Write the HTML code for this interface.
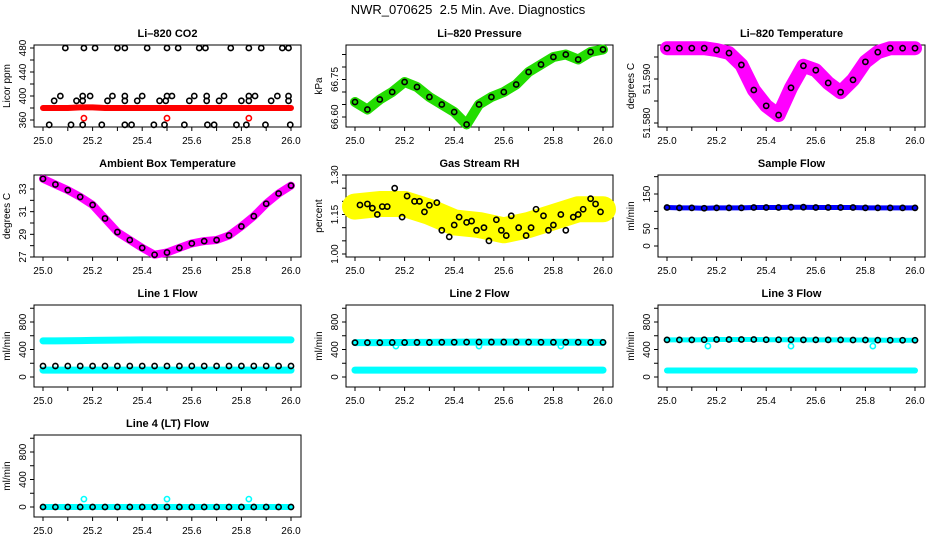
<!DOCTYPE html>
<html><head><meta charset="utf-8">
<style>
html,body{margin:0;padding:0;background:#fff;}
svg{display:block;font-family:"Liberation Sans",Arial,sans-serif;}
</style></head>
<body>
<svg id="chart" width="936" height="540" viewBox="0 0 936 540" xmlns="http://www.w3.org/2000/svg">
<text x="468" y="14" font-size="13" text-anchor="middle">NWR_070625&#160; 2.5 Min. Ave. Diagnostics</text>
</svg>
<script>
// ---- data ----
const T21=[25.0,25.05,25.1,25.15,25.2,25.25,25.3,25.35,25.4,25.45,25.5,25.55,25.6,25.65,25.7,25.75,25.8,25.85,25.9,25.95,26.0];
const xTicks=[25.0,25.1,25.2,25.3,25.4,25.5,25.6,25.7,25.8,25.9,26.0];
const xTickLabels=["25.0","","25.2","","25.4","","25.6","","25.8","","26.0"];

const co2T480=[25.09,25.165,25.21,25.30,25.33,25.42,25.50,25.545,25.63,25.655,25.757,25.83,25.88,25.965,25.99];
const co2T400=[25.07,25.16,25.19,25.28,25.33,25.40,25.50,25.52,25.61,25.66,25.73,25.83,25.855,25.945,25.99];
const co2T392=[25.045,25.135,25.16,25.26,25.33,25.38,25.47,25.495,25.59,25.66,25.71,25.80,25.83,25.92,25.99];
const co2T352=[25.025,25.113,25.16,25.237,25.33,25.357,25.447,25.49,25.57,25.663,25.69,25.78,25.82,25.897,25.997];
const co2RedBand=[380,380,380,381,381,380,380,380,380,380,380,380,380,380,380,380,380,380,380,380,380];
const co2RedT=[25.165,25.50,25.83];
const co2RedV=[363,363,363];

const pressure=[66.66,66.63,66.67,66.70,66.74,66.72,66.68,66.65,66.62,66.57,66.65,66.68,66.70,66.73,66.78,66.81,66.84,66.85,66.83,66.86,66.87];
const liTemp=[51.5970,51.5970,51.5970,51.5970,51.5966,51.5959,51.5932,51.5875,51.5839,51.5818,51.5880,51.5930,51.5920,51.5891,51.5870,51.5898,51.5939,51.5961,51.5970,51.5970,51.5970];
const ambient=[33.9,33.4,32.9,32.3,31.6,30.4,29.2,28.5,27.8,27.2,27.4,27.8,28.2,28.4,28.5,28.9,29.7,30.6,31.7,32.6,33.3];

const rhT=[25.02,25.05,25.07,25.09,25.11,25.13,25.16,25.19,25.21,25.24,25.26,25.28,25.30,25.33,25.35,25.38,25.40,25.42,25.45,25.47,25.49,25.52,25.54,25.57,25.59,25.61,25.63,25.66,25.69,25.71,25.73,25.76,25.78,25.80,25.83,25.85,25.88,25.90,25.92,25.95,25.97,25.99];
const rhV=[1.186,1.19,1.174,1.15,1.18,1.18,1.25,1.14,1.22,1.20,1.20,1.16,1.185,1.195,1.09,1.065,1.11,1.14,1.12,1.125,1.09,1.10,1.05,1.13,1.09,1.07,1.145,1.10,1.07,1.10,1.17,1.145,1.09,1.11,1.15,1.09,1.14,1.15,1.17,1.21,1.19,1.16];
const rhBandT=[25.0,25.1,25.2,25.3,25.4,25.5,25.6,25.7,25.8,25.9,26.0];
const rhBand=[1.18,1.19,1.19,1.16,1.12,1.11,1.09,1.11,1.14,1.17,1.17];

const sampleFlow=[111,110,110,109,110,110,110,111,111,111,112,112,111,111,111,111,110,110,110,110,110];
const line1Hi=[525,525,528,530,532,534,536,538,540,540,540,540,540,540,540,540,540,540,540,540,540];
const line1Lo=[100,100,100,100,100,100,100,100,100,100,100,100,100,100,100,100,100,100,100,100,100];
const line1Black=[160,160,160,160,160,160,160,160,160,160,160,160,160,160,160,160,160,160,160,160,160];
const line2Black=[500,500,500,502,502,503,503,505,506,507,508,508,508,508,507,506,505,505,505,504,504];
const line2Cyan=[100,100,100,100,100,100,100,100,100,100,100,100,100,100,100,100,100,100,100,100,100];
const line3Black=[540,540,540,542,545,545,545,545,542,542,542,540,540,540,540,538,538,536,535,535,535];
const line3Cyan=[95,95,95,95,95,95,95,95,95,95,95,95,95,95,95,95,95,95,95,95,95];
const line4Black=[0,0,0,0,0,0,0,0,0,0,0,0,0,0,0,0,0,0,0,0,0];
const outT=[25.165,25.50,25.83];
const line2Out=[450,450,450];
const line3Out=[450,450,450];
const line4Out=[115,115,115];

// ---- drawing ----
const svg=document.getElementById('chart');
const NS='http://www.w3.org/2000/svg';
const colX=[43,355,667];
function el(tag,attrs,name){
  const e=document.createElementNS(NS,tag);
  for(const k in attrs) e.setAttribute(k,attrs[k]);
  
  
  return e;
}
function panel(c,r,cfg){
  const g=el('g',{},cfg.name);
  svg.appendChild(g);
  const oy=130*r;
  const x0=colX[c];
  const sx=t=>x0+(t-25)*248;
  const [v1,p1,v2,p2]=cfg.ymap;
  const sy=v=>oy+p1+(v-v1)*(p2-p1)/(v2-v1);
  const L=x0-9,R=x0+258,Tp=oy+45,B=oy+127;
  cfg.sx=sx;cfg.sy=sy;cfg.g=g;
  g.appendChild(el('rect',{x:L,y:Tp,width:R-L,height:B-Tp,fill:'none',stroke:'#000','stroke-width':1},'plot-box'));
  const t=el('text',{x:(L+R)/2,y:oy+37,'font-size':11,'font-weight':'bold','text-anchor':'middle'},'panel-title');
  t.textContent=cfg.title;g.appendChild(t);
  g.appendChild(el('line',{x1:sx(25),x2:sx(26),y1:B,y2:B,stroke:'#000'},'x-axis-line'));
  xTicks.forEach((v,i)=>{
    g.appendChild(el('line',{x1:sx(v),x2:sx(v),y1:B,y2:B+4,stroke:'#000'},'x-tick'));
    if(xTickLabels[i]){
      const l=el('text',{x:sx(v),y:B+17,'font-size':10,'text-anchor':'middle'},'x-tick-label');
      l.textContent=xTickLabels[i];g.appendChild(l);
    }
  });
  const yt=cfg.yticks;
  g.appendChild(el('line',{x1:L,x2:L,y1:sy(yt[0]),y2:sy(yt[yt.length-1]),stroke:'#000'},'y-axis-line'));
  yt.forEach(v=>g.appendChild(el('line',{x1:L-4,x2:L,y1:sy(v),y2:sy(v),stroke:'#000'},'y-tick')));
  cfg.ylabels.forEach(s=>{
    const y=sy(parseFloat(s));
    const l=el('text',{x:L-8,y:y,'font-size':10,'text-anchor':'middle',transform:`rotate(-90 ${L-8} ${y})`},'y-tick-label');
    l.textContent=s;g.appendChild(l);
  });
  const yl=el('text',{x:L-24,y:(Tp+B)/2,'font-size':10,'text-anchor':'middle',transform:`rotate(-90 ${L-24} ${(Tp+B)/2})`},'y-axis-title');
  yl.textContent=cfg.ylab;g.appendChild(yl);
  return cfg;
}
function band(p,ts,vs,color,w,name){
  const pts=ts.map((t,i)=>p.sx(t).toFixed(1)+','+p.sy(vs[i]).toFixed(1)).join(' ');
  p.g.appendChild(el('polyline',{points:pts,fill:'none',stroke:color,'stroke-width':w,'stroke-linejoin':'round','stroke-linecap':'round'},name));
}
function pts(p,ts,vs,color,name){
  ts.forEach((t,i)=>{
    p.g.appendChild(el('circle',{cx:p.sx(t),cy:p.sy(vs[i]),r:2.6,fill:'none',stroke:color,'stroke-width':1.6},name));
  });
}
const fill=(a,v)=>a.map(()=>v);

// Panel 1 CO2
let p=panel(0,0,{name:'panel-co2',title:'Li\u2013820 CO2',ylab:'Licor ppm',ymap:[360,120,480,48],yticks:[360,380,400,420,440,460,480],ylabels:['360','400','440','480']});
band(p,T21,co2RedBand,'#ff0000',6,'co2-red-band');
pts(p,co2T480,fill(co2T480,480),'#000','co2-point');
pts(p,co2T400,fill(co2T400,400),'#000','co2-point');
pts(p,co2T392,fill(co2T392,392),'#000','co2-point');
pts(p,co2T352,fill(co2T352,352),'#000','co2-point');
pts(p,co2RedT,co2RedV,'#ff0000','co2-red-point');

// Panel 2 Pressure
p=panel(1,0,{name:'panel-pressure',title:'Li\u2013820 Pressure',ylab:'kPa',ymap:[66.60,117,66.75,79.5],yticks:[66.60,66.65,66.70,66.75,66.80,66.85],ylabels:['66.60','66.75']});
band(p,T21,pressure,'#22dd00',10,'pressure-band');
pts(p,T21,pressure,'#000','pressure-point');

// Panel 3 Li temp
p=panel(2,0,{name:'panel-li-temp',title:'Li\u2013820 Temperature',ylab:'degrees C',ymap:[51.580,123,51.590,79],yticks:[51.580,51.585,51.590,51.595],ylabels:['51.580','51.590']});
band(p,T21,liTemp,'#ff00ff',14,'li-temp-band');
pts(p,T21,liTemp,'#000','li-temp-point');

// Panel 4 Ambient
p=panel(0,1,{name:'panel-ambient-temp',title:'Ambient Box Temperature',ylab:'degrees C',ymap:[27,127,33,59],yticks:[27,28,29,30,31,32,33],ylabels:['27','29','31','33']});
band(p,T21,ambient,'#ff00ff',8,'ambient-band');
pts(p,T21,ambient,'#000','ambient-point');

// Panel 5 RH
p=panel(1,1,{name:'panel-rh',title:'Gas Stream RH',ylab:'percent',ymap:[1.00,124,1.30,45],yticks:[1.00,1.05,1.10,1.15,1.20,1.25,1.30],ylabels:['1.00','1.15','1.30']});
band(p,rhBandT,rhBand,'#ffff00',26,'rh-band');
pts(p,rhT,rhV,'#000','rh-point');

// Panel 6 Sample flow
p=panel(2,1,{name:'panel-sample-flow',title:'Sample Flow',ylab:'ml/min',ymap:[0,116,150,64],yticks:[0,50,100,150,200],ylabels:['0','50','150']});
band(p,T21,sampleFlow,'#0000ff',5,'sample-flow-band');
pts(p,T21,sampleFlow,'#000','sample-flow-point');

const flowCfg=(n,t)=>({name:n,title:t,ylab:'ml/min',ymap:[0,117,800,62],yticks:[0,200,400,600,800,1000],ylabels:['0','400','800']});
p=panel(0,2,flowCfg('panel-line1-flow','Line 1 Flow'));
band(p,T21,line1Hi,'#00ffff',7,'line1-cyan-high');
band(p,T21,line1Lo,'#00ffff',7,'line1-cyan-low');
pts(p,T21,line1Black,'#000','line1-point');
p=panel(1,2,flowCfg('panel-line2-flow','Line 2 Flow'));
band(p,T21,line2Black,'#00ffff',7,'line2-cyan-high');
band(p,T21,line2Cyan,'#00ffff',7,'line2-cyan-low');
pts(p,outT,line2Out,'#00ffff','line2-cyan-outlier');
pts(p,T21,line2Black,'#000','line2-point');
p=panel(2,2,flowCfg('panel-line3-flow','Line 3 Flow'));
band(p,T21,line3Black,'#00ffff',5,'line3-cyan-high');
band(p,T21,line3Cyan,'#00ffff',6,'line3-cyan-low');
pts(p,outT,line3Out,'#00ffff','line3-cyan-outlier');
pts(p,T21,line3Black,'#000','line3-point');
p=panel(0,3,flowCfg('panel-line4-flow','Line 4 (LT) Flow'));
band(p,T21,line4Black,'#00ffff',6,'line4-cyan-band');
pts(p,outT,line4Out,'#00ffff','line4-cyan-outlier');
pts(p,T21,line4Black,'#000','line4-point');
</script>
</body></html>
